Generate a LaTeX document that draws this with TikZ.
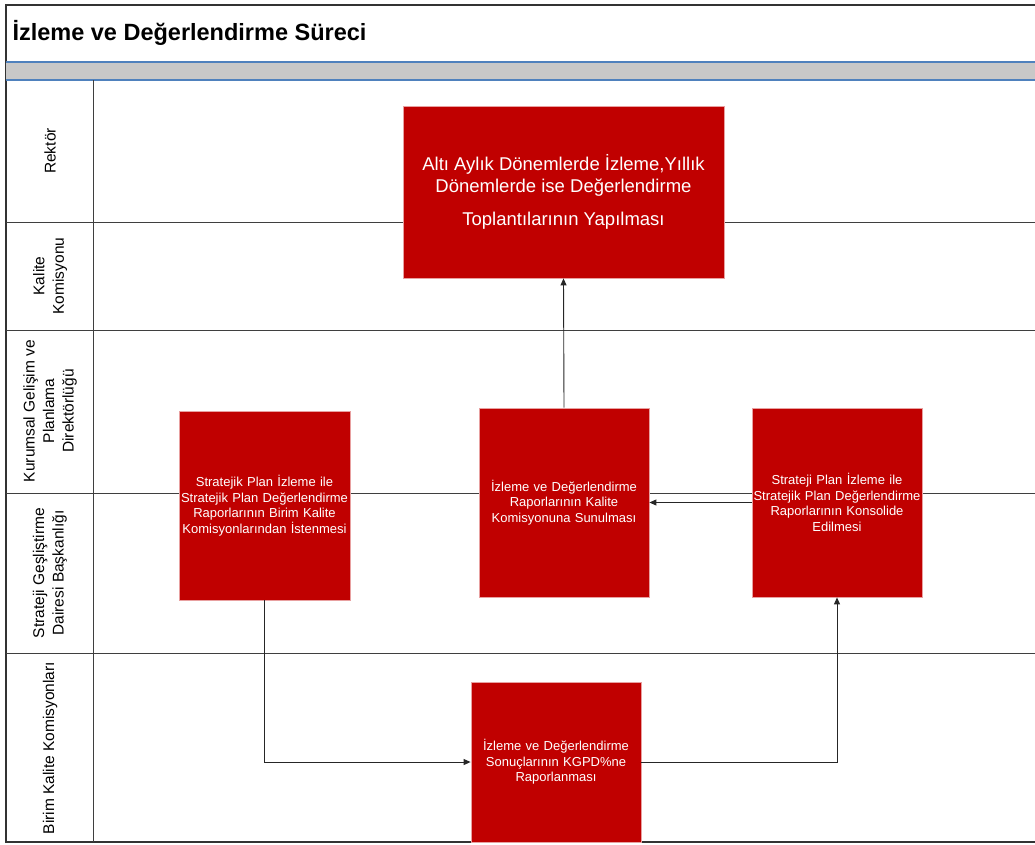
\documentclass[tikz,border=0pt]{standalone}
\usepackage{fontspec}
\setmainfont{Liberation Sans}
\usepackage{xcolor}
\usetikzlibrary{arrows.meta, positioning}

\definecolor{boxred}{HTML}{C00000}
\definecolor{boxedge}{HTML}{E8A0A0}
\definecolor{bandgrey}{HTML}{C8C8C8}
\definecolor{bandblue}{HTML}{4F81BD}
\definecolor{laneline}{HTML}{3F3F3F}

\begin{document}
\begin{tikzpicture}[
    x=1pt, y=-1pt,
    box/.style={draw=boxedge, line width=0.8pt, fill=boxred, text=white, align=center,
                minimum width=#1, inner sep=1pt},
    small/.style={font=\fontsize{13}{15.5}\selectfont, text width=167pt},
    lane/.style={rotate=90, align=center, font=\fontsize{15.5}{19.5}\selectfont},
    arr/.style={-{Triangle[length=7pt,width=6pt]}, line width=0.9pt, draw=black!85},
    sep/.style={draw=laneline, line width=1pt}
]
    \useasboundingbox (0,0) rectangle (1035,844);

    % Frame and header
    \draw[line width=1.6pt, draw=black!80] (1035,5) -- (6,5) -- (6,842) -- (1035,842);
    \node[anchor=west, font=\fontsize{23.5}{28}\selectfont\bfseries] (baslik) at (9,33) {İzleme ve Değerlendirme Süreci};
    \fill[bandgrey] (6,62) rectangle (1035,80);
    \draw[bandblue, line width=1.2pt] (6,62) -- (1035,62);
    \draw[bandblue, line width=1.2pt] (6,80) -- (1035,80);

    % Lanes
    \draw[sep] (93,80) -- (93,842);
    \draw[sep] (6,222) -- (1035,222);
    \draw[sep] (6,330) -- (1035,330);
    \draw[sep] (6,493) -- (1035,493);
    \draw[sep] (6,653) -- (1035,653);

    \node[lane] (rektor)   at (50,151) {Rektör};
    \node[lane] (kalite)   at (50,276) {Kalite\\Komisyonu};
    \node[lane] (kurumsal) at (50,411) {Kurumsal Gelişim ve\\Planlama\\Direktörlüğü};
    \node[lane] (strateji) at (50,573) {Strateji Geşliştirme\\Dairesi Başkanlığı};
    \node[lane] (birim)    at (50,748) {Birim Kalite Komisyonları};

    % Steps
    \node[box=321pt, minimum height=172pt, font=\fontsize{18.5}{22}\selectfont] (toplanti) at (563.5,192)
        {Altı Aylık Dönemlerde İzleme,Yıllık\\Dönemlerde ise Değerlendirme\\[11pt]Toplantılarının Yapılması};
    \node[box=171pt, small, minimum height=189pt] (istenme) at (264.5,505.5)
        {Stratejik Plan İzleme ile\\Stratejik Plan Değerlendirme\\Raporlarının Birim Kalite\\Komisyonlarından İstenmesi};
    \node[box=170pt, small, minimum height=189pt] (sunum) at (564,502.5)
        {İzleme ve Değerlendirme\\Raporlarının Kalite\\Komisyonuna Sunulması};
    \node[box=170pt, small, minimum height=189pt] (konsolide) at (837,502.5)
        {Strateji Plan İzleme ile\\Stratejik Plan Değerlendirme\\Raporlarının Konsolide\\Edilmesi};
    \node[box=170pt, small, minimum height=160pt] (raporlama) at (556,762)
        {İzleme ve Değerlendirme\\Sonuçlarının KGPD\%ne\\Raporlanması};

    % Flow
    \draw[arr] (istenme.south) |- (raporlama.west);
    \draw[arr] (raporlama.east) -| (konsolide.south);
    \draw[arr] (konsolide.west) -- (sunum.east);
    \draw[arr] (sunum.north) -- (toplanti.south);
\end{tikzpicture}
\end{document}
